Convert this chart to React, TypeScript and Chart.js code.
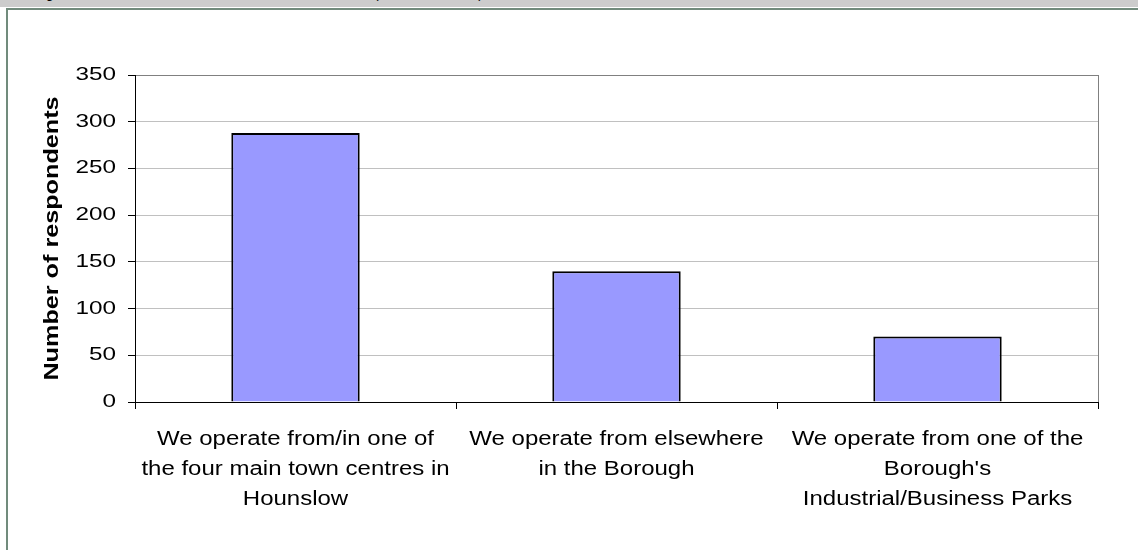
import { useEffect, useRef } from "react";
import { Chart, registerables } from "chart.js";

Chart.register(...registerables);

// Category labels, one line per array entry
const categories: string[][] = [
  ["We operate from/in one of", "the four main town centres in", "Hounslow"],
  ["We operate from elsewhere", "in the Borough"],
  ["We operate from one of the", "Borough's", "Industrial/Business Parks"],
];

// Number of respondents per location
const respondents: number[] = [288, 140, 70];

// Value axis range
const yMin = 0;
const yMax = 350;
const yStep = 50;

const yAxisTitle = "Number of respondents";
const headerText = "Figure 4: Main business location in the Hounslow area (Number of firms)";

const FONT = "'Liberation Sans', Arial, sans-serif";

// Text in this chart is drawn wide, stretched along its own baseline;
// the stretch depends on the font size in use
function stretchFor(font: string): number {
  const m = /(\d+(?:\.\d+)?)px/.exec(font);
  const size = m ? parseFloat(m[1]) : 12;
  if (size <= 18) return 1.35;
  return 1.2;
}

const wideText = {
  id: "wideText",
  beforeDraw(chart: any) {
    const ctx = chart.ctx as any;
    if (ctx.__wideText) return;
    const orig = ctx.fillText.bind(ctx);
    ctx.fillText = (text: string, x: number, y: number) => {
      const sx = stretchFor(ctx.font);
      ctx.save();
      ctx.translate(x, y);
      ctx.scale(sx, 1);
      orig(text, 0, 0);
      ctx.restore();
    };
    ctx.__wideText = true;
  },
};

// Grey plot-area border on the right-hand side
const plotBorder = {
  id: "plotBorder",
  beforeDatasetsDraw(chart: any) {
    const { ctx, chartArea } = chart;
    ctx.save();
    ctx.strokeStyle = "#808080";
    ctx.lineWidth = 1;
    const x = Math.round(chartArea.right) + 0.5;
    ctx.beginPath();
    ctx.moveTo(x, chartArea.top);
    ctx.lineTo(x, chartArea.bottom);
    ctx.stroke();
    ctx.restore();
  },
};

export default function App() {
  const canvasRef = useRef<HTMLCanvasElement | null>(null);

  useEffect(() => {
    const canvas = canvasRef.current;
    if (!canvas) return;
    const chart = new Chart(canvas, {
      type: "bar",
      data: {
        labels: categories,
        datasets: [
          {
            data: respondents,
            backgroundColor: "#9999ff",
            borderColor: "#000000",
            borderWidth: 2,
            barPercentage: 0.4,
            categoryPercentage: 1,
          },
        ],
      },
      options: {
        animation: false,
        responsive: false,
        maintainAspectRatio: false,
        layout: { padding: { left: 0, top: 75, right: 40, bottom: 0 } },
        plugins: {
          legend: { display: false },
          tooltip: { enabled: false },
          title: { display: false },
        },
        scales: {
          x: {
            afterFit(scale: any) {
              scale.height = 148;
            },
            grid: {
              offset: true,
              drawOnChartArea: false,
              drawTicks: true,
              tickLength: 7,
              tickColor: "#000000",
            },
            border: { color: "#000000", width: 1 },
            ticks: {
              autoSkip: false,
              maxRotation: 0,
              minRotation: 0,
              padding: 15,
              color: "#000000",
              font: { family: FONT, size: 20, lineHeight: "30px" },
            },
          },
          y: {
            min: yMin,
            max: yMax,
            afterFit(scale: any) {
              scale.width = 135;
            },
            grid: {
              color: (c: any) => (c.tick && c.tick.value === yMax ? "#808080" : "#c0c0c0"),
              tickColor: "#000000",
              tickLength: 7,
              drawTicks: true,
            },
            border: { color: "#000000", width: 1 },
            ticks: {
              stepSize: yStep,
              padding: 12,
              color: "#000000",
              font: { family: FONT, size: 18 },
            },
            title: {
              display: true,
              text: yAxisTitle,
              color: "#000000",
              padding: { top: 40, bottom: 0 },
              font: { family: FONT, size: 21, weight: "bold" },
            },
          },
        },
      },
      plugins: [wideText, plotBorder],
    });
    return () => chart.destroy();
  }, []);

  return (
    <div
      style={{
        position: "absolute",
        left: 0,
        top: 0,
        width: 1138,
        height: 550,
        overflow: "hidden",
        background: "#ffffff",
      }}
    >
      <div
        style={{
          position: "absolute",
          left: 0,
          top: 0,
          width: 1138,
          height: 7,
          background: "#cccccc",
          overflow: "hidden",
        }}
      >
        <span
          style={{
            position: "absolute",
            left: 34,
            top: -15,
            whiteSpace: "nowrap",
            font: `14px/16px ${FONT}`,
            color: "#000000",
          }}
        >
          {headerText}
        </span>
      </div>
      <div
        style={{
          position: "absolute",
          left: 6,
          top: 8,
          width: 1140,
          height: 550,
          borderLeft: "2px solid #718b7c",
          borderTop: "2px solid #718b7c",
        }}
      />
      <canvas
        ref={canvasRef}
        width={1138}
        height={550}
        style={{ position: "absolute", left: 0, top: 0, width: 1138, height: 550 }}
      />
    </div>
  );
}
